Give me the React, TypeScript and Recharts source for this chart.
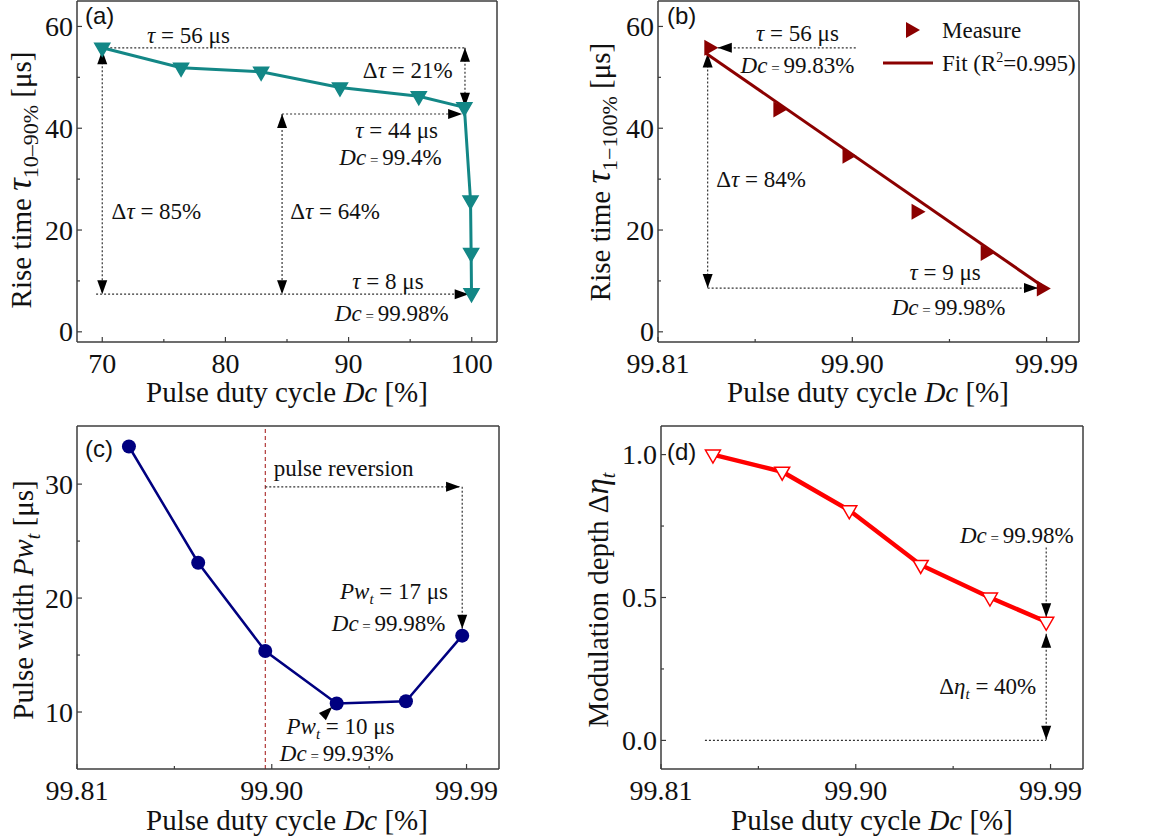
import React from 'react';
import { ComposedChart, Line, XAxis, YAxis, ReferenceLine, ReferenceDot } from 'recharts';

const SERIF = '"Liberation Serif", "Times New Roman", serif';
const SANS = '"Liberation Sans", Arial, sans-serif';
const FRAME = '#3c3c3c';
const INK = '#111';
const TEAL = '#138786';
const MAROON = '#8b0000';
const NAVY = '#000080';
const RED = '#ff0000';

// (a) rise time 10-90% vs duty cycle
const dcA = [70, 76.4, 82.9, 89.3, 95.7, 99.4, 99.9, 99.95, 99.98];
const tauA = [55.8, 51.9, 51.1, 48.0, 46.3, 44.1, 25.8, 15.5, 7.6];

// (b) rise time 1-100%, measured + linear fit
const dcB = [99.834, 99.866, 99.898, 99.93, 99.962, 99.988];
const tauB = [55.8, 43.7, 34.6, 23.6, 15.5, 8.5];
const fitDcB = [99.832, 99.988];
const fitTauB = [54.8, 9.0];

// (c) pulse width
const dcC = [99.834, 99.866, 99.897, 99.93, 99.962, 99.988];
const pwC = [33.3, 23.1, 15.35, 10.75, 10.95, 16.7];

// (d) modulation depth
const dcD = [99.834, 99.866, 99.897, 99.93, 99.962, 99.988];
const etaD = [1.0, 0.94, 0.805, 0.614, 0.5, 0.415];

// ticks
const xTicksA = [70, 75, 80, 85, 90, 95, 100];
const xMajorA = [70, 80, 90, 100];
const dcTicks = [99.81, 99.855, 99.9, 99.945, 99.99];
const dcMajor = [99.81, 99.9, 99.99];
const tauTicks = [0, 10, 20, 30, 40, 50, 60];
const tauMajor = [0, 20, 40, 60];
const pwTicks = [10, 15, 20, 25, 30];
const pwMajor = [10, 20, 30];
const etaTicks = [0, 0.25, 0.5, 0.75, 1.0];
const etaMajor = [0, 0.5, 1.0];

const rows = (xs: number[], ys: number[]) => xs.map((x, i) => ({ x, y: ys[i] }));

const isMajor = (majors: number[], v: number) => majors.some(m => Math.abs(m - v) < 1e-9);

const serif = (size: number) => ({ fontFamily: SERIF, fontSize: size });

const xTick = (majors: number[], digits: number) => (p: any) => {
  const v = p.payload.value;
  const mj = isMajor(majors, v);
  return (
    <g>
      <line x1={p.x} x2={p.x} y1={p.y} y2={p.y - (mj ? 5 : 3)} stroke={FRAME} strokeWidth={1.2} />
      {mj && (
        <text x={p.x} y={p.y + 31} textAnchor="middle" style={serif(28)} fill={INK}>
          {v.toFixed(digits)}
        </text>
      )}
    </g>
  );
};

const yTick = (majors: number[], digits: number) => (p: any) => {
  const v = p.payload.value;
  const mj = isMajor(majors, v);
  return (
    <g>
      <line x1={p.x} x2={p.x + (mj ? 5 : 3)} y1={p.y} y2={p.y} stroke={FRAME} strokeWidth={1.2} />
      {mj && (
        <text x={p.x - 4} y={p.y + 9.5} textAnchor="end" style={serif(28)} fill={INK}>
          {v.toFixed(digits)}
        </text>
      )}
    </g>
  );
};

const axisLine = { stroke: FRAME, strokeWidth: 1.5 };

// top and right sides of the box
const frame = (dx: number[], dy: number[]) => [
  <XAxis key="ft" xAxisId="top" orientation="top" type="number" domain={dx} allowDataOverflow height={1} tick={false} tickLine={false} axisLine={axisLine} />,
  <YAxis key="fr" yAxisId="right" orientation="right" type="number" domain={dy} allowDataOverflow width={1} tick={false} tickLine={false} axisLine={axisLine} />,
];

// arrowhead polygon with its tip at (tx,ty), coming from (fx,fy)
const head = (tx: number, ty: number, fx: number, fy: number) => {
  const len = Math.hypot(tx - fx, ty - fy) || 1;
  const ux = (tx - fx) / len;
  const uy = (ty - fy) / len;
  const L = 14;
  const W = 5;
  const bx = tx - ux * L;
  const by = ty - uy * L;
  return `${tx},${ty} ${bx - uy * W},${by + ux * W} ${bx + uy * W},${by - ux * W}`;
};

const arrow = (heads: 'none' | 'start' | 'end' | 'both', line = true) => (p: any) => {
  const { x1, y1, x2, y2 } = p;
  return (
    <g>
      {line && <line x1={x1} y1={y1} x2={x2} y2={y2} stroke="#333" strokeWidth={1.2} strokeDasharray="2 2" />}
      {(heads === 'end' || heads === 'both') && <polygon points={head(x2, y2, x1, y1)} fill="#000" />}
      {(heads === 'start' || heads === 'both') && <polygon points={head(x1, y1, x2, y2)} fill="#000" />}
    </g>
  );
};

const seg = (key: string, x1: number, y1: number, x2: number, y2: number, heads: 'none' | 'start' | 'end' | 'both', line = true) => (
  <ReferenceLine key={key} segment={[{ x: x1, y: y1 }, { x: x2, y: y2 }]} ifOverflow="visible" shape={arrow(heads, line)} />
);

const note = (key: string, x: number, y: number, content: React.ReactNode, anchor: 'start' | 'middle' | 'end' = 'middle', size = 23) => (
  <ReferenceDot
    key={key}
    x={x}
    y={y}
    r={0}
    ifOverflow="visible"
    shape={(p: any) => (
      <text x={p.cx} y={p.cy + size * 0.33} textAnchor={anchor} style={serif(size)} fill={INK}>
        {content}
      </text>
    )}
  />
);

const I = ({ children }: { children: React.ReactNode }) => <tspan fontStyle="italic">{children}</tspan>;
const dcEq = (v: string) => (
  <>
    <I>Dc</I>
    <tspan style={{ fontSize: 15 }}> = </tspan>
    {v}
  </>
);
const tauEq = (v: string) => (
  <>
    <I>τ</I> = {v}
  </>
);
const dTau = (v: string) => (
  <>
    Δ<I>τ</I> = {v}
  </>
);
const pwEq = (v: string) => (
  <>
    <I>Pw</I>
    <tspan fontStyle="italic" style={{ fontSize: 15 }} dy={5}>t</tspan>
    <tspan dy={-5}> = {v}</tspan>
  </>
);

const triDown = (color: string, fill: string) => (p: any) => (
  <polygon
    key={p.index}
    points={`${p.cx - 7.5},${p.cy - 4.5} ${p.cx + 7.5},${p.cy - 4.5} ${p.cx},${p.cy + 8.5}`}
    fill={fill}
    stroke={color}
    strokeWidth={1.5}
  />
);
const triRight = (p: any) => (
  <polygon key={p.index} points={`${p.cx - 5.5},${p.cy - 8} ${p.cx - 5.5},${p.cy + 8} ${p.cx + 8.5},${p.cy}`} fill={MAROON} />
);
const circle = (p: any) => <circle key={p.index} cx={p.cx} cy={p.cy} r={7} fill={NAVY} />;

const xTitle = (cx: number, y: number) => (
  <text x={cx} y={y} textAnchor="middle" style={serif(29)} fill={INK}>
    Pulse duty cycle <I>Dc</I> [%]
  </text>
);

const letter = (x: number, y: number, s: string) => (
  <text x={x} y={y} style={{ fontFamily: SANS, fontSize: 24 }} fill={INK}>
    {s}
  </text>
);

const Panel = ({ left, top, w, h, overlay, children }: any) => (
  <div style={{ position: 'absolute', left, top, width: w, height: h }}>
    {children}
    <svg width={w} height={h} style={{ position: 'absolute', left: 0, top: 0, pointerEvents: 'none' }}>
      {overlay}
    </svg>
  </div>
);

const domA = [67.95, 102.05];
const domTau = [-2, 65];
const domDc = [99.81, 100.005];
const domPw = [5, 35.1];
const domEta = [-0.1, 1.1];

const xAxisProps = { dataKey: 'x', type: 'number' as const, allowDataOverflow: true, interval: 0, height: 1, tickSize: 0, tickMargin: 0, tickLine: false, axisLine };
const yAxisProps = { type: 'number' as const, allowDataOverflow: true, interval: 0, width: 1, tickSize: 0, tickMargin: 0, tickLine: false, axisLine };

export default function App() {
  return (
    <div style={{ position: 'fixed', left: 0, top: 0, width: 1153, height: 839, background: '#fff', overflow: 'hidden' }}>
      {/* (a) */}
      <Panel
        left={0}
        top={0}
        w={580}
        h={420}
        overlay={
          <>
            {letter(85, 24, '(a)')}
            {xTitle(287, 402)}
            <text transform="translate(31,180) rotate(-90)" textAnchor="middle" style={serif(29)} fill={INK}>
              Rise time <tspan fontStyle="italic" style={{ fontSize: 35 }}>τ</tspan>
              <tspan style={{ fontSize: 22 }} dy={7}>10–90%</tspan>
              <tspan dy={-7}> [μs]</tspan>
            </text>
          </>
        }
      >
        <ComposedChart width={580} height={420} data={rows(dcA, tauA)} margin={{ top: 0, left: 76, right: 82, bottom: 77 }}>
          <XAxis {...xAxisProps} domain={domA} ticks={xTicksA} tick={xTick(xMajorA, 0)} />
          <YAxis {...yAxisProps} domain={domTau} ticks={tauTicks} tick={yTick(tauMajor, 0)} />
          {frame(domA, domTau)}
          {seg('a1', 70, 55.8, 99.45, 55.8, 'none')}
          {seg('a2', 99.45, 55.8, 99.45, 44.2, 'both')}
          {seg('a3', 84.6, 42.8, 99.22, 42.8, 'end')}
          {seg('a4', 84.6, 42.8, 84.6, 7.4, 'both')}
          {seg('a5', 70, 55.3, 70, 7.4, 'both')}
          {seg('a6', 69.5, 7.4, 99.75, 7.4, 'end')}
          {note('n1', 77, 58.3, tauEq('56 μs'))}
          {note('n2', 94.8, 51.4, dTau('21%'))}
          {note('n3', 93.9, 39.6, tauEq('44 μs'))}
          {note('n4', 93.4, 34.2, dcEq('99.4%'))}
          {note('n5', 74.4, 23.7, dTau('85%'))}
          {note('n6', 88.9, 23.7, dTau('64%'))}
          {note('n7', 93.2, 10.0, tauEq('8 μs'))}
          {note('n8', 93.5, 3.7, dcEq('99.98%'))}
          <Line dataKey="y" type="linear" stroke={TEAL} strokeWidth={3} dot={triDown(TEAL, TEAL)} isAnimationActive={false} />
        </ComposedChart>
      </Panel>

      {/* (b) */}
      <Panel
        left={575}
        top={0}
        w={578}
        h={420}
        overlay={
          <>
            {letter(92, 24, '(b)')}
            {xTitle(293, 402)}
            <text transform="translate(35,172) rotate(-90)" textAnchor="middle" style={serif(29)} fill={INK}>
              Rise time <tspan fontStyle="italic" style={{ fontSize: 35 }}>τ</tspan>
              <tspan style={{ fontSize: 22 }} dy={7}>1−100%</tspan>
              <tspan dy={-7}> [μs]</tspan>
            </text>
            <polygon points="331,22 331,38 345,30" fill={MAROON} />
            <text x={367} y={38} style={serif(23)} fill={INK}>Measure</text>
            <line x1={308} x2={358} y1={63} y2={63} stroke={MAROON} strokeWidth={3} />
            <text x={367} y={71} style={serif(23)} fill={INK}>
              Fit (R<tspan style={{ fontSize: 14 }} dy={-9}>2</tspan>
              <tspan dy={9}>=0.995)</tspan>
            </text>
          </>
        }
      >
        <ComposedChart width={578} height={420} margin={{ top: 0, left: 82, right: 73, bottom: 77 }}>
          <XAxis {...xAxisProps} domain={domDc} ticks={dcTicks} tick={xTick(dcMajor, 2)} />
          <YAxis {...yAxisProps} domain={domTau} ticks={tauTicks} tick={yTick(tauMajor, 0)} />
          {frame(domDc, domTau)}
          {seg('b1', 99.9016, 55.8, 99.8377, 55.8, 'end')}
          {seg('b2', 99.833, 54.7, 99.833, 8.6, 'both')}
          {seg('b3', 99.833, 8.6, 99.986, 8.6, 'end')}
          {note('m1', 99.8746, 58.6, tauEq('56 μs'))}
          {note('m2', 99.8746, 52.4, dcEq('99.83%'))}
          {note('m3', 99.8577, 29.9, dTau('84%'))}
          {note('m4', 99.943, 11.6, tauEq('9 μs'))}
          {note('m5', 99.9446, 4.7, dcEq('99.98%'))}
          <Line data={rows(fitDcB, fitTauB)} dataKey="y" type="linear" stroke={MAROON} strokeWidth={3} dot={false} isAnimationActive={false} />
          <Line data={rows(dcB, tauB)} dataKey="y" type="linear" stroke="none" dot={triRight} isAnimationActive={false} />
        </ComposedChart>
      </Panel>

      {/* (c) */}
      <Panel
        left={0}
        top={420}
        w={580}
        h={419}
        overlay={
          <>
            {letter(85, 37, '(c)')}
            {xTitle(287, 410)}
            <text transform="translate(33,180) rotate(-90)" textAnchor="middle" style={serif(29)} fill={INK}>
              Pulse width <tspan fontStyle="italic">Pw</tspan>
              <tspan fontStyle="italic" style={{ fontSize: 20 }} dy={7}>t</tspan>
              <tspan dy={-7}> [μs]</tspan>
            </text>
          </>
        }
      >
        <ComposedChart width={580} height={419} data={rows(dcC, pwC)} margin={{ top: 5, left: 76, right: 80, bottom: 69 }}>
          <XAxis {...xAxisProps} domain={domDc} ticks={dcTicks} tick={xTick(dcMajor, 2)} />
          <YAxis {...yAxisProps} domain={domPw} ticks={pwTicks} tick={yTick(pwMajor, 0)} />
          {frame(domDc, domPw)}
          <ReferenceLine x={dcC[2]} stroke="#a01010" strokeWidth={1} strokeDasharray="4 3" ifOverflow="visible" />
          {seg('c1', 99.897, 29.76, 99.987, 29.76, 'end')}
          {seg('c2', 99.988, 29.76, 99.988, 17.3, 'end')}
          {seg('c3', 99.9226, 9.45, 99.928, 10.46, 'end', false)}
          {note('p1', 99.9009, 31.4, <>pulse reversion</>, 'start')}
          {note('p2', 99.9565, 20.55, pwEq('17 μs'))}
          {note('p3', 99.954, 17.8, dcEq('99.98%'))}
          {note('p4', 99.9318, 8.7, pwEq('10 μs'))}
          {note('p5', 99.93, 6.4, dcEq('99.93%'))}
          <Line dataKey="y" type="linear" stroke={NAVY} strokeWidth={2.5} dot={circle} isAnimationActive={false} />
        </ComposedChart>
      </Panel>

      {/* (d) */}
      <Panel
        left={575}
        top={420}
        w={578}
        h={419}
        overlay={
          <>
            {letter(92, 40, '(d)')}
            {xTitle(297, 410)}
            <text transform="translate(33,180) rotate(-90)" textAnchor="middle" style={serif(29)} fill={INK}>
              Modulation depth Δ<tspan fontStyle="italic" style={{ fontSize: 33 }}>η</tspan>
              <tspan fontStyle="italic" style={{ fontSize: 20 }} dy={7}>t</tspan>
            </text>
          </>
        }
      >
        <ComposedChart width={578} height={419} data={rows(dcD, etaD)} margin={{ top: 5, left: 85, right: 69, bottom: 69 }}>
          <XAxis {...xAxisProps} domain={domDc} ticks={dcTicks} tick={xTick(dcMajor, 2)} />
          <YAxis {...yAxisProps} domain={domEta} ticks={etaTicks} tick={yTick(etaMajor, 1)} />
          {frame(domDc, domEta)}
          {seg('d1', 99.8303, 0, 99.988, 0, 'none')}
          {seg('d2', 99.988, 0.675, 99.988, 0.431, 'end')}
          {seg('d3', 99.988, 0.373, 99.988, 0.002, 'both')}
          {note('q1', 99.9744, 0.716, dcEq('99.98%'))}
          {note(
            'q2',
            99.961,
            0.188,
            <>
              Δ<I>η</I>
              <tspan fontStyle="italic" style={{ fontSize: 15 }} dy={5}>t</tspan>
              <tspan dy={-5}> = 40%</tspan>
            </>
          )}
          <Line dataKey="y" type="linear" stroke={RED} strokeWidth={4.5} dot={triDown(RED, '#fff')} isAnimationActive={false} />
        </ComposedChart>
      </Panel>
    </div>
  );
}
